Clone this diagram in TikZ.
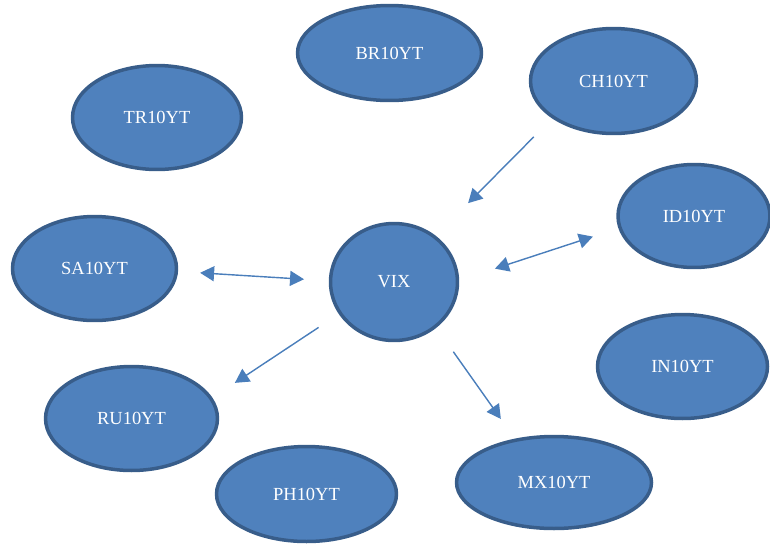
\documentclass[tikz,border=0pt]{standalone}
\usepackage{fontspec}
\setmainfont{Liberation Serif}
\usetikzlibrary{shapes.geometric,arrows.meta}
\definecolor{ovalfill}{HTML}{4F81BD}
\definecolor{ovaledge}{HTML}{385D8A}
\definecolor{arrowblue}{HTML}{4A7EBB}
\tikzset{>={Triangle[length=0.28cm,width=0.3cm]}}
\tikzset{oval/.style={ellipse, fill=ovalfill, draw=ovaledge, line width=0.07cm,
    inner sep=0pt, outer sep=0pt, text=white, font=\fontsize{10.5}{12}\selectfont}}
\tikzset{link/.style={draw=arrowblue, fill=arrowblue, line width=0.8pt}}

\begin{document}
\begin{tikzpicture}[x=0.02cm,y=-0.02cm]
    \useasboundingbox (0,0) rectangle (770,545);
    % set up the nodes
    \node[oval, minimum width=3.68cm, minimum height=1.90cm] (BR) at (389.5,53) {BR10YT};
    \node[oval, minimum width=3.32cm, minimum height=2.10cm] (CH) at (613.5,81) {CH10YT};
    \node[oval, minimum width=3.38cm, minimum height=2.08cm] (TR) at (157,117.5) {TR10YT};
    \node[oval, minimum width=3.04cm, minimum height=2.06cm] (ID) at (694,216) {ID10YT};
    \node[oval, minimum width=3.28cm, minimum height=2.08cm] (SA) at (94.5,268.5) {SA10YT};
    \node[oval, minimum width=2.54cm, minimum height=2.34cm] (VIX) at (394,282) {VIX};
    \node[oval, minimum width=3.40cm, minimum height=2.08cm] (IN) at (682.5,366.5) {IN10YT};
    \node[oval, minimum width=3.44cm, minimum height=2.08cm] (RU) at (131.5,418.5) {RU10YT};
    \node[oval, minimum width=3.60cm, minimum height=1.90cm] (PH) at (306.5,494) {PH10YT};
    \node[oval, minimum width=3.90cm, minimum height=1.84cm] (MX) at (554,482.5) {MX10YT};
    % draw arrows between them
    \draw[link, ->, shorten <=0.556cm, shorten >=0.954cm] (CH.211.3)--(VIX.48.4);
    \draw[link, <->, shorten <=0.476cm, shorten >=0.531cm] (SA.-2.9)--(VIX.179.6);
    \draw[link, <->, shorten <=0.788cm, shorten >=0.571cm] (VIX.1.9)--(ID.189.5);
    \draw[link, ->, shorten <=0.519cm, shorten >=0.573cm] (VIX.210.8)--(RU.14);
    \draw[link, ->, shorten <=0.622cm, shorten >=0.521cm] (VIX.-47.3)--(MX.132.8);
\end{tikzpicture}
\end{document}
